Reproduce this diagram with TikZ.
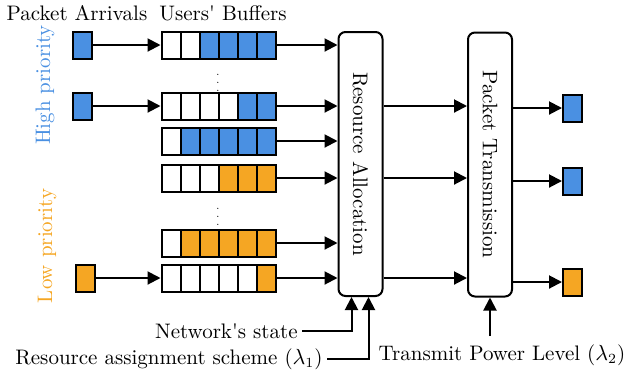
\documentclass[tikz,border=0pt]{standalone}
\usepackage{amsmath}
\usepackage{amssymb}
\usetikzlibrary{arrows.meta}
\definecolor{hiblue}{RGB}{74,144,226}
\definecolor{loorange}{RGB}{245,166,35}

\begin{document}
\begin{tikzpicture}[x=0.5pt,y=-0.5pt,font=\fontsize{10.5}{12.6}\selectfont]
	\tikzstyle{every node}+=[inner sep=0pt]
	\tikzstyle{cell}=[draw=black, line width=1pt, minimum width=9.5pt, minimum height=13.5pt]
	\tikzstyle{block}=[draw=black, line width=1pt, rounded corners=3.5pt, minimum width=22pt, minimum height=132pt]
	\tikzstyle{arr}=[black, line width=1pt, -{Triangle[length=6.5pt,width=6.5pt]}]
	\tikzstyle{lbl}=[inner sep=2pt]
	\useasboundingbox (0,0) rectangle (628,372);
	% headers
	\node (hdrarr) at (77,13) {Packet Arrivals};
	\node (hdrbuf) at (223,13) {Users\textquotesingle{} Buffers};
	\node[rotate=90, text=hiblue] (hiprio) at (45,85) {High priority};
	\node[rotate=90, text=loorange] (loprio) at (47,246) {Low priority};
	% blocks
	\node[block] (ra) at (360.5,164) {};
	\node[rotate=-90] (ratext) at (ra) {Resource Allocation};
	\node[block] (pt) at (490,164.5) {};
	\node[rotate=-90] (pttext) at (pt) {Packet Transmission};
	% buffers
	\foreach \i/\y/\w/\col in {1/45/2/hiblue,2/106/4/hiblue,3/141/1/hiblue,4/178/3/loorange,5/243/1/loorange,6/278/5/loorange}{
		\foreach \k in {1,...,6}{
			\ifnum\k>\w \def\cc{\col}\else\def\cc{white}\fi
			\node[cell,fill=\cc] (b\i c\k) at ({152+19*\k},\y) {};
		}
		\draw[arr] (b\i c6.east) -- (ra.west |- b\i c6);
	}
	\node (dots1) at (218,77) {\tiny$\vdots$};
	\node (dots2) at (218,211) {\tiny$\vdots$};
	% arrivals
	\node[cell,fill=hiblue] (a1) at (82.5,45) {};
	\node[cell,fill=hiblue] (a2) at (82.5,106) {};
	\node[cell,fill=loorange] (a6) at (85,278) {};
	\draw[arr] (a1.east) -- (b1c1.west);
	\draw[arr] (a2.east) -- (b2c1.west);
	\draw[arr] (a6.east) -- (b6c1.west);
	% transmission
	\foreach \i in {2,4,6}
		\draw[arr] (ra.east |- b\i c6) -- (pt.west |- b\i c6);
	\node[cell,fill=hiblue] (o1) at (572.5,108) {};
	\node[cell,fill=hiblue] (o2) at (572.5,181) {};
	\node[cell,fill=loorange] (o3) at (572.5,282) {};
	\draw[arr] (pt.east |- o1) -- (o1.west);
	\draw[arr] (pt.east |- o2) -- (o2.west);
	\draw[arr] (pt.east |- o3) -- (o3.west);
	% inputs
	\node[lbl, anchor=east] (netstate) at (302,331) {Network\textquotesingle{}s state};
	\node[lbl, anchor=east] (scheme) at (327,359) {Resource assignment scheme ($\lambda_1$)};
	\node[lbl] (power) at (502,355) {Transmit Power Level ($\lambda_2$)};
	\draw[arr] (netstate.east) -| ([xshift=-4.5pt]ra.south);
	\draw[arr] (scheme.east) -| ([xshift=4pt]ra.south);
	\draw[arr] ([yshift=2pt]power.north -| pt.south) -- (pt.south);
\end{tikzpicture}
\end{document}
